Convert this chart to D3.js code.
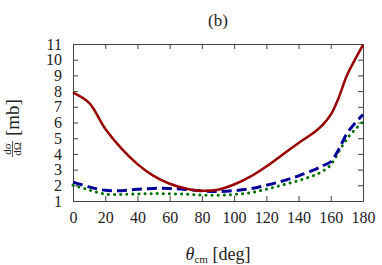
<!DOCTYPE html>
<html>
<head>
<meta charset="utf-8">
<script src="https://cdn.jsdelivr.net/npm/d3@7"></script>
<style>
  body { margin: 0; background: #fff; }
  svg { display: block; }
</style>
</head>
<body>
<div id="chart"></div>
<script>
// angles (deg) and cross sections (mb)
const theta = [0, 10, 20, 30, 40, 50, 60, 70, 80, 90, 100, 110, 120, 130, 140, 150, 155, 160, 165, 170, 175, 180]
const red   = [7.9, 7.25, 5.6, 4.35, 3.35, 2.6, 2.1, 1.8, 1.65, 1.72, 2.05, 2.55, 3.2, 3.95, 4.7, 5.4, 5.85, 6.5, 7.6, 9.0, 10.0, 10.95]
const blue  = [2.2, 1.9, 1.68, 1.66, 1.75, 1.8, 1.8, 1.74, 1.64, 1.6, 1.66, 1.78, 2.0, 2.27, 2.6, 3.0, 3.25, 3.5, 4.3, 5.3, 5.95, 6.5]
const green = [2.0, 1.7, 1.44, 1.42, 1.45, 1.47, 1.46, 1.43, 1.38, 1.36, 1.42, 1.52, 1.75, 2.02, 2.3, 2.65, 2.9, 3.3, 4.15, 4.95, 5.55, 6.05]
const xTicks = [0, 20, 40, 60, 80, 100, 120, 140, 160, 180]
const yTicks = [1, 2, 3, 4, 5, 6, 7, 8, 9, 10, 11]

const FONT = '"Liberation Serif", "DejaVu Serif", serif'

let margin = { top: 44, left: 73, right: 19, bottom: 64 },
  W = 382, H = 265,
  width = W - margin.left - margin.right,
  height = H - margin.top - margin.bottom

let svg = d3.select('#chart').append('svg')
  .attr('width', W).attr('height', H)
  .attr('font-family', FONT)

let g = svg.append('g')
  .attr('transform', 'translate(' + margin.left + ',' + margin.top + ')')

let x = d3.scaleLinear().domain([0, 180]).range([0, width])
let y = d3.scaleLinear().domain([1, 11]).range([height, 0])

// axes with inward ticks on all four sides
function styleAxis(sel) {
  sel.attr('font-family', FONT).attr('font-size', 16)
  sel.select('.domain').attr('stroke', '#444').attr('stroke-width', 1)
  sel.selectAll('.tick line').attr('stroke', '#444')
  sel.selectAll('.tick text').attr('fill', '#222')
}
g.append('g').attr('transform', 'translate(0,' + height + ')')
  .call(d3.axisBottom(x).tickValues(xTicks).tickSizeInner(-5).tickSizeOuter(0).tickPadding(11))
  .call(styleAxis)
g.append('g')
  .call(d3.axisTop(x).tickValues(xTicks).tickSizeInner(-5).tickSizeOuter(0).tickFormat(''))
  .call(styleAxis)
g.append('g')
  .call(d3.axisLeft(y).tickValues(yTicks).tickSizeInner(-5).tickSizeOuter(0).tickPadding(11))
  .call(styleAxis)
g.append('g').attr('transform', 'translate(' + width + ',0)')
  .call(d3.axisRight(y).tickValues(yTicks).tickSizeInner(-5).tickSizeOuter(0).tickFormat(''))
  .call(styleAxis)

let line = d3.line()
  .x((d, i) => x(theta[i]))
  .y(d => y(d))
  .curve(d3.curveCatmullRom.alpha(0.5))

g.append('path').datum(green)
  .attr('d', line).attr('fill', 'none')
  .attr('stroke', '#007000').attr('stroke-width', 3)
  .attr('stroke-linecap', 'round').attr('stroke-dasharray', '0.1 6')
g.append('path').datum(blue)
  .attr('d', line).attr('fill', 'none')
  .attr('stroke', '#000099').attr('stroke-width', 3)
  .attr('stroke-dasharray', '10 5')
g.append('path').datum(red)
  .attr('d', line).attr('fill', 'none')
  .attr('stroke', '#990000').attr('stroke-width', 2.5)

// title
svg.append('text')
  .attr('x', margin.left + width / 2).attr('y', 26)
  .attr('text-anchor', 'middle').attr('font-size', 17).attr('fill', '#222')
  .text('(b)')

// x label
let xl = svg.append('text')
  .attr('x', margin.left + width / 2).attr('y', 260)
  .attr('text-anchor', 'middle').attr('font-size', 18).attr('fill', '#222')
xl.append('tspan').attr('font-style', 'italic').text('θ')
xl.append('tspan').attr('font-size', 11).attr('dy', 3).text('cm')
xl.append('tspan').attr('dy', -3).text(' [deg]')

// y label: dσ/dΩ [mb]
let yl = svg.append('g').attr('transform', 'translate(0,127) rotate(-90)')
  .attr('fill', '#222')
yl.append('text').attr('x', -22).attr('y', 10.5)
  .attr('text-anchor', 'middle').attr('font-size', 11).text('dσ')
yl.append('line').attr('x1', -30).attr('x2', -14).attr('y1', 12.5).attr('y2', 12.5)
  .attr('stroke', '#222').attr('stroke-width', 0.7)
yl.append('text').attr('x', -22).attr('y', 21)
  .attr('text-anchor', 'middle').attr('font-size', 11).text('dΩ')
yl.append('text').attr('x', -9).attr('y', 18.5)
  .attr('text-anchor', 'start').attr('font-size', 19).text('[mb]')
</script>
</body>
</html>
